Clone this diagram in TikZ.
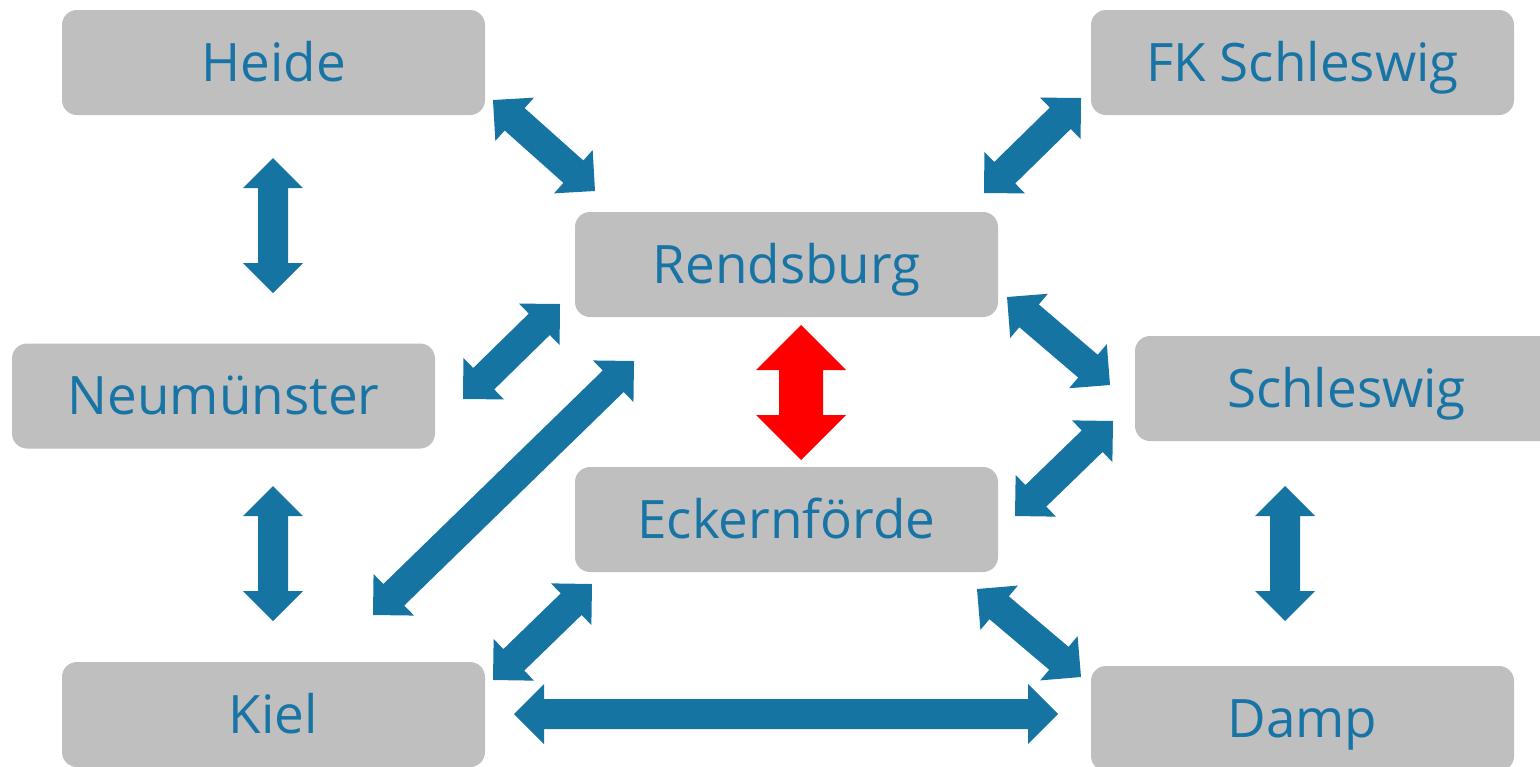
\documentclass[tikz,border=0pt]{standalone}
\usepackage{fontspec}
\setmainfont{Open Sans}
\usetikzlibrary{calc}
\definecolor{arrblue}{HTML}{1674A3}
\definecolor{txtblue}{HTML}{1874A5}
\definecolor{boxgrey}{HTML}{BFBFBF}
\definecolor{arrred}{HTML}{FF0000}
\newcommand\blockarr[5]{%
  \coordinate (ba1) at ($(#2)!#4!(#3)$);
  \coordinate (ba2) at ($(#3)!#4!(#2)$);
  \fill[#1] (#2) -- ($(ba1)!#4!90:(#3)$) -- ($(ba1)!#5!90:(#3)$)
    -- ($(ba2)!#5!-90:(#2)$) -- ($(ba2)!#4!-90:(#2)$) -- (#3)
    -- ($(ba2)!#4!90:(#2)$) -- ($(ba2)!#5!90:(#2)$)
    -- ($(ba1)!#5!-90:(#3)$) -- ($(ba1)!#4!-90:(#3)$) -- cycle;
}
\tikzset{
  box/.style={fill=boxgrey, rounded corners=7.5pt, minimum width=211.5pt,
    minimum height=52.5pt, inner sep=0pt, text height=18.8pt, text depth=0pt,
    text=txtblue, font=\fontsize{26.5pt}{30pt}\selectfont},
  bluearr/.style={fill=arrblue},
  redarr/.style={fill=arrred}
}
\begin{document}
\begin{tikzpicture}[x=0.5pt,y=-0.5pt]
\useasboundingbox (0,0) rectangle (1540,766);
\node[box] (heide) at (273.5,62.5) {Heide};
\node[box] (fk) at (1302.5,62.5) {FK Schleswig};
\node[box] (rends) at (786.5,264.5) {Rendsburg};
\node[box] (neum) at (223.5,396) {Neumünster};
\node[box] (schl) at (1346.5,388.5) {Schleswig};
\node[box] (eck) at (786.5,519.5) {Eckernförde};
\node[box] (kiel) at (273.5,714.5) {Kiel};
\node[box] (damp) at (1302.5,718.5) {Damp};
% arrow ends
\coordinate (a1) at (493,100);  \coordinate (b1) at (595,191);
\coordinate (a2) at (1081,98);  \coordinate (b2) at (984,193);
\coordinate (a3) at (560,304);  \coordinate (b3) at (463,399);
\coordinate (a4) at (634,361);  \coordinate (b4) at (373,615);
\coordinate (a5) at (1007,297); \coordinate (b5) at (1110,385);
\coordinate (a6) at (1113,421); \coordinate (b6) at (1015,516);
\coordinate (a7) at (592,584);  \coordinate (b7) at (493,680);
\coordinate (a8) at (977,589);  \coordinate (b8) at (1081,677);
\coordinate (a9) at (273,158);  \coordinate (b9) at (273,293);
\coordinate (a10) at (273,486); \coordinate (b10) at (273,621);
\coordinate (a11) at (1285,486); \coordinate (b11) at (1285,621);
\coordinate (a12) at (514,714); \coordinate (b12) at (1058,714);
\coordinate (a13) at (801,325); \coordinate (b13) at (801,460);
\blockarr{bluearr}{a1}{b1}{14.5pt}{7.5pt}
\blockarr{bluearr}{a2}{b2}{14.5pt}{7.5pt}
\blockarr{bluearr}{a3}{b3}{14.5pt}{7.5pt}
\blockarr{bluearr}{a4}{b4}{14.5pt}{7.5pt}
\blockarr{bluearr}{a5}{b5}{14.5pt}{7.5pt}
\blockarr{bluearr}{a6}{b6}{14.5pt}{7.5pt}
\blockarr{bluearr}{a7}{b7}{14.5pt}{7.5pt}
\blockarr{bluearr}{a8}{b8}{14.5pt}{7.5pt}
\blockarr{bluearr}{a9}{b9}{15pt}{7.5pt}
\blockarr{bluearr}{a10}{b10}{15pt}{7.5pt}
\blockarr{bluearr}{a11}{b11}{15pt}{7.5pt}
\blockarr{bluearr}{a12}{b12}{15pt}{7.5pt}
\blockarr{redarr}{a13}{b13}{22.5pt}{11pt}
\end{tikzpicture}
\end{document}
